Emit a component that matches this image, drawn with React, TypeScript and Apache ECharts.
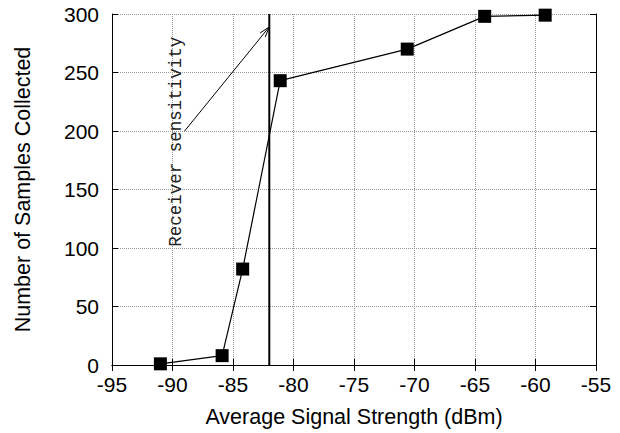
import React, { useEffect, useRef } from "react";
import * as echarts from "echarts";

// Data
const signalStrength = [-91, -85.9, -84.2, -81.1, -70.6, -64.2, -59.2];
const samplesCollected = [1, 8, 82, 243, 270, 298, 299];
const xTicks = [-95, -90, -85, -80, -75, -70, -65, -60, -55];
const yTicks = [0, 50, 100, 150, 200, 250, 300];
const sensitivity = -82;
const arrowStart = [-89, 200];
const arrowEnd = [-82, 289];
const labelAnchor = [-89.7, 101];
const labelText = "Receiver sensitivity";

export default function App() {
  const ref = useRef<HTMLDivElement>(null);
  useEffect(() => {
    if (!ref.current) return;
    const chart = echarts.init(ref.current, null, { renderer: "svg" });
    const xMin = xTicks[0];
    const xMax = xTicks[xTicks.length - 1];
    const xInt = xTicks[1] - xTicks[0];
    const yMin = yTicks[0];
    const yMax = yTicks[yTicks.length - 1];
    const yInt = yTicks[1] - yTicks[0];
    const tickFont = { color: "#000", fontFamily: "Liberation Sans", fontSize: 21 };
    const axisLine = { show: true, lineStyle: { color: "#000", width: 1 } };
    const splitLine = { show: true, lineStyle: { color: "#999", type: "dotted", width: 1 } };
    const option: any = {
      animation: false,
      backgroundColor: "#fff",
      grid: { left: 112, right: 24, top: 14, bottom: 68 },
      xAxis: [
        {
          type: "value",
          min: xMin,
          max: xMax,
          interval: xInt,
          name: "Average Signal Strength (dBm)",
          nameLocation: "middle",
          nameGap: 41,
          nameTextStyle: { color: "#000", fontFamily: "Liberation Sans", fontSize: 21.5 },
          axisLine,
          axisTick: { show: true, inside: true, length: 6, lineStyle: { color: "#000" } },
          axisLabel: { ...tickFont, margin: 9 },
          splitLine,
        },
        {
          type: "value",
          position: "top",
          min: xMin,
          max: xMax,
          interval: xInt,
          axisLine,
          axisTick: { show: true, inside: true, length: 6, lineStyle: { color: "#000" } },
          axisLabel: { show: false },
          splitLine: { show: false },
        },
      ],
      yAxis: [
        {
          type: "value",
          min: yMin,
          max: yMax,
          interval: yInt,
          name: "Number of Samples Collected",
          nameLocation: "middle",
          nameGap: 78,
          nameTextStyle: { color: "#000", fontFamily: "Liberation Sans", fontSize: 21.5 },
          axisLine,
          axisTick: { show: true, inside: true, length: 6, lineStyle: { color: "#000" } },
          axisLabel: { ...tickFont, margin: 13 },
          splitLine,
        },
        {
          type: "value",
          position: "right",
          min: yMin,
          max: yMax,
          interval: yInt,
          axisLine,
          axisTick: { show: true, inside: true, length: 6, lineStyle: { color: "#000" } },
          axisLabel: { show: false },
          splitLine: { show: false },
        },
      ],
      series: [
        {
          type: "custom",
          xAxisIndex: 0,
          yAxisIndex: 0,
          clip: false,
          z: 3,
          data: [[sensitivity, yMin]],
          renderItem: (params: any, api: any) => {
            const v0 = api.coord([sensitivity, yMin]);
            const v1 = api.coord([sensitivity, yMax]);
            const s = api.coord(arrowStart);
            const e = api.coord(arrowEnd);
            const ang = Math.atan2(e[1] - s[1], e[0] - s[0]);
            const hl = 11;
            const spread = 0.3;
            const h1 = [e[0] - hl * Math.cos(ang - spread), e[1] - hl * Math.sin(ang - spread)];
            const h2 = [e[0] - hl * Math.cos(ang + spread), e[1] - hl * Math.sin(ang + spread)];
            const la = api.coord(labelAnchor);
            return {
              type: "group",
              children: [
                {
                  type: "line",
                  shape: { x1: v0[0], y1: v0[1], x2: v1[0], y2: v1[1] },
                  style: { stroke: "#000", lineWidth: 2 },
                },
                {
                  type: "line",
                  shape: { x1: s[0], y1: s[1], x2: e[0], y2: e[1] },
                  style: { stroke: "#000", lineWidth: 1 },
                },
                {
                  type: "polyline",
                  shape: { points: [h1, e, h2] },
                  style: { stroke: "#000", fill: "none", lineWidth: 1 },
                },
                {
                  type: "text",
                  x: la[0],
                  y: la[1],
                  rotation: Math.PI / 2,
                  style: {
                    text: labelText,
                    x: 0,
                    y: 0,
                    align: "left",
                    verticalAlign: "middle",
                    fill: "#222",
                    fontFamily: "Liberation Mono",
                    fontSize: 17.5,
                  },
                },
              ],
            };
          },
        },
        {
          type: "line",
          xAxisIndex: 0,
          yAxisIndex: 0,
          z: 4,
          data: signalStrength.map((x, i) => [x, samplesCollected[i]]),
          symbol: "rect",
          symbolSize: 13,
          itemStyle: { color: "#000" },
          lineStyle: { color: "#000", width: 1.2 },
        },
      ],
    };
    chart.setOption(option);
    return () => chart.dispose();
  }, []);
  return <div ref={ref} style={{ width: 620, height: 433, position: "absolute", left: 0, top: 0 }} />;
}
